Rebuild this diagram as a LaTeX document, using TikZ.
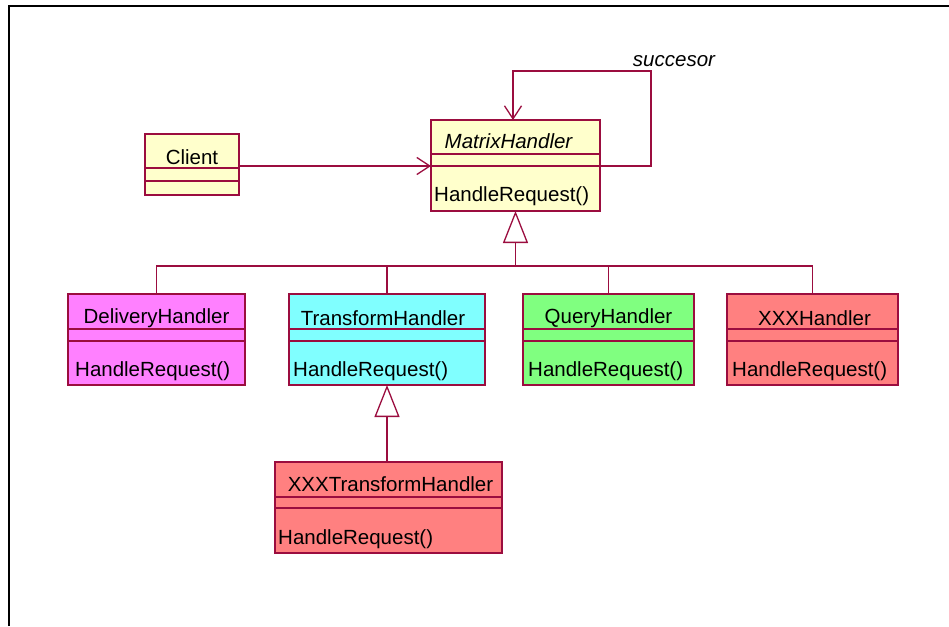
\documentclass[tikz,border=0pt]{standalone}
\usepackage{fontspec}
\setmainfont{Liberation Sans}
\usetikzlibrary{arrows.meta}

\definecolor{edge}{HTML}{9B0D3F}
\definecolor{yellowfill}{HTML}{FFFFCC}
\definecolor{magentafill}{HTML}{FF80FF}
\definecolor{cyanfill}{HTML}{80FFFF}
\definecolor{greenfill}{HTML}{80FF80}
\definecolor{salmonfill}{HTML}{FF8080}

\tikzset{
  cls/.style={draw=edge, line width=1.6pt, inner sep=0pt, outer sep=0pt,
              anchor=north west, minimum height=91pt},
  sepline/.style={draw=edge, line width=1.3pt},
  label/.style={inner sep=0pt, font=\fontsize{20.5}{24}\selectfont},
  title/.style={label},
  ititle/.style={label, font=\fontsize{20.5}{24}\selectfont\itshape},
  method/.style={label, anchor=west},
  conn/.style={draw=edge, line width=1.3pt},
  assoc/.style={conn, -{Straight Barb[length=13pt,width=17pt,line width=1.3pt]}},
  inherit/.style={conn, -{Triangle[open,length=32pt,width=25pt,line width=1.3pt,fill=white]}},
  frame/.style={draw=black, line width=2pt},
}

\begin{document}
\begin{tikzpicture}[x=1pt,y=-1pt]
\useasboundingbox (0,0) rectangle (949,626);

% outer frame
\draw[frame] (9,626) -- (9,6) -- (949,6);

% class boxes
\node[cls, fill=yellowfill, minimum width=94pt, minimum height=61pt] (client) at (145,134) {};
\node[cls, fill=yellowfill, minimum width=169pt] (matrix) at (431,120) {};
\node[cls, fill=magentafill, minimum width=177pt] (delivery) at (68,294) {};
\node[cls, fill=cyanfill, minimum width=196pt] (transform) at (289,294) {};
\node[cls, fill=greenfill, minimum width=171pt] (query) at (523,294) {};
\node[cls, fill=salmonfill, minimum width=171pt] (xxx) at (727,294) {};
\node[cls, fill=salmonfill, minimum width=227pt] (xxxt) at (275,462) {};

% compartment separators
\foreach \c/\a/\b in {client/34/47, matrix/34/46, delivery/35/47, transform/35/47,
                       query/35/47, xxx/35/47, xxxt/35/46} {
  \draw[sepline] ([yshift=-\a pt]\c.north west) -- ([yshift=-\a pt]\c.north east);
  \draw[sepline] ([yshift=-\b pt]\c.north west) -- ([yshift=-\b pt]\c.north east);
}

% class names
\node[title] at ([yshift=-23pt]client.north) {Client};
\node[ititle] at ([xshift=-7pt,yshift=-21pt]matrix.north) {MatrixHandler};
\node[title] at ([yshift=-24pt]delivery.north) {DeliveryHandler};
\node[title] at ([xshift=-4pt,yshift=-24pt]transform.north) {TransformHandler};
\node[title] at ([yshift=-24pt]query.north) {QueryHandler};
\node[title] at ([xshift=2pt,yshift=-24pt]xxx.north) {XXXHandler};
\node[title] at ([xshift=2pt,yshift=-22pt]xxxt.north) {XXXTransformHandler};

% operations
\node[method] at ([xshift=3pt,yshift=-76pt]matrix.north west) {HandleRequest()};
\node[method] at ([xshift=7pt,yshift=-77pt]delivery.north west) {HandleRequest()};
\node[method] at ([xshift=4pt,yshift=-77pt]transform.north west) {HandleRequest()};
\node[method] at ([xshift=5pt,yshift=-77pt]query.north west) {HandleRequest()};
\node[method] at ([xshift=5pt,yshift=-77pt]xxx.north west) {HandleRequest()};
\node[method] at ([xshift=3pt,yshift=-77pt]xxxt.north west) {HandleRequest()};

% client association
\draw[assoc] ([yshift=-32pt]client.north east) -- ([yshift=-46pt]matrix.north west);

% successor self-association
\coordinate (loopA) at (651,71);
\coordinate (loopB) at (513,71);
\draw[assoc] ([yshift=-46pt]matrix.north east) -| (loopA) -- (loopB) -- (loopB |- matrix.north);
\node[ititle] (succ) at (674,61) {succesor};

% generalization tree
\coordinate (bus) at (matrix.south |- 0,266);
\draw[conn] (delivery.north) |- (bus) -| (xxx.north);
\draw[conn] (transform.north) -- (transform.north |- bus);
\draw[conn] (query.north) -- (query.north |- bus);
\draw[inherit] (bus) -- (matrix.south);
\draw[inherit] (transform.south |- xxxt.north) -- (transform.south);
\end{tikzpicture}
\end{document}
